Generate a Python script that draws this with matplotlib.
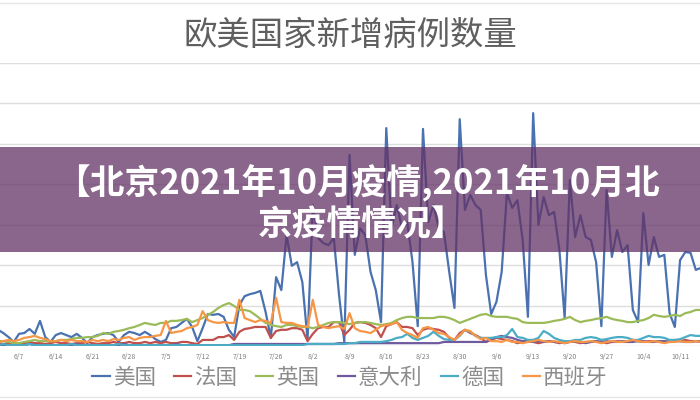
import numpy as np
import pandas as pd
import matplotlib
matplotlib.use('Agg')
import matplotlib.pyplot as plt
from matplotlib.patches import Rectangle
from matplotlib.lines import Line2D

plt.rcParams['font.family'] = ['Noto Sans CJK SC', 'DejaVu Sans']

# daily new cases, 2020-06-03 .. 2020-10-15
start_date = '2020-06-03'

us = [4000, 3200, 2200, 1000,
      3000, 3200, 4200, 3000, 6200, 2200, 1000,
      2700, 3200, 2700, 2200, 3000, 2000, 700,
      2200, 2700, 3000, 3200, 2700, 1000, 2700,
      3500, 3200, 2700, 3500, 2700, 1700, 1000,
      1500, 4400, 4700, 5700, 6700, 4700, 1200,
      4400, 7900, 7700, 7900, 7200, 4000, 2200,
      10100, 12300, 12800, 13100, 13600, 8400, 2000,
      17000, 13800, 27400, 19800, 20700, 15800, 1500,
      34800, 26700, 25400, 24900, 26700, 12600, 1000,
      47200, 22500, 29100, 27400, 18300, 13800, 5900,
      53800, 29100, 34800, 29100, 30600, 20700, 4900,
      53600, 30600, 34800, 29100, 28100, 18300, 9400,
      56000, 33600, 37300, 34800, 33600, 17500, 7900,
      10900, 18300, 37800, 34100, 36000, 26200, 7200,
      57500, 29900, 36800, 32300, 33100, 23700, 6900,
      41000, 26900, 32300, 26900, 26200, 20700, 4900,
      38500, 22000, 28600, 23200, 24900, 8900, 5900,
      32800, 20000, 26900, 22000, 22500, 8100, 4700,
      21200, 23200, 23000, 18800, 19300]

france = [700, 500, 700, 700,
          500, 700, 1000, 700, 700, 500, 700,
          1000, 700, 700, 500, 700, 700, 1000,
          700, 500, 700, 700, 1000, 700, 700,
          1000, 700, 700, 1000, 700, 1000, 700,
          1000, 700, 700, 1000, 1000, 700, 500,
          1500, 1500, 1500, 2200, 2200, 2700, 1500,
          3500, 4200, 4400, 4700, 4700, 4700, 2000,
          3700, 4000, 4000, 4400, 4400, 4000, 1200,
          3000, 4400, 4700, 4700, 5900, 5900, 2700,
          4000, 5700, 5900, 5700, 5200, 4400, 2200,
          4900, 5400, 5900, 4700, 4700, 4400, 2700,
          4000, 4400, 4200, 4000, 3500, 2000, 1500,
          3200, 4000, 3200, 2700, 2000, 1000, 1500,
          2000, 1700, 1500, 1200, 700, 1000, 1200,
          1000, 700, 1000, 1200, 1000, 700, 1000,
          1200, 1000, 700, 1000, 1000, 1200, 1000,
          700, 1000, 1200, 1000, 1000, 1500, 1200,
          1000, 1200, 1200, 1000, 1000, 1200, 1500,
          1200, 1500, 1200, 1200, 1000]

uk = [1200, 1200, 1000, 700,
      700, 1000, 1200, 1500, 1200, 1200, 1200,
      1200, 1500, 1500, 1700, 2000, 2000, 2200,
      2200, 2500, 3200, 3000, 3500, 3700, 4000,
      4400, 4700, 5200, 5700, 5400, 5200, 5700,
      5700, 6200, 6200, 6400, 6700, 5900, 6400,
      6900, 7700, 8400, 9400, 10100, 10600, 9900,
      8900, 8900, 8600, 7700, 6700, 5700, 5200,
      4900, 4700, 5200, 5200, 4900, 4700, 4700,
      4400, 4700, 5200, 5700, 5900, 5900, 5700,
      5400, 5700, 5900, 5900, 5700, 5400, 5200,
      5400, 5700, 6400, 6900, 7200, 7200, 6900,
      6900, 6900, 6900, 7200, 7200, 6900, 6400,
      5700, 6200, 6700, 7200, 7700, 7900, 7400,
      7200, 7200, 7200, 6900, 6700, 5900, 5700,
      5700, 5700, 5700, 5900, 6200, 6400, 6700,
      7200, 6400, 5900, 6200, 6400, 6700, 6900,
      7200, 6700, 6400, 6200, 5900, 5900, 6200,
      6400, 6900, 7700, 7400, 7200, 7400, 7700,
      7400, 8100, 8400, 8900, 8900]

italy = [200, 200, 200, 200,
         200, 200, 500, 200, 200, 200, 200,
         200, 200, 200, 200, 500, 200, 200,
         200, 200, 200, 200, 200, 200, 500,
         200, 200, 200, 200, 200, 200, 200,
         200, 200, 500, 200, 200, 200, 200,
         200, 200, 200, 200, 200, 200, 500,
         500, 500, 500, 500, 500, 500, 500,
         500, 500, 500, 500, 500, 500, 500,
         500, 500, 500, 500, 500, 700, 700,
         700, 700, 700, 700, 700, 700, 700,
         700, 700, 700, 700, 700, 700, 700,
         700, 700, 700, 700, 1000, 1000, 1000,
         1000, 1000, 1000, 1000, 1000, 1000, 1700,
         2200, 2500, 2200, 2000, 1500, 1200, 1200,
         1000, 1200, 1000, 1200, 1000, 1000, 700,
         1000, 1200, 1000, 700, 1000, 1200, 1000,
         1200, 1000, 1000, 1200, 1000, 1000, 1200,
         1200, 1000, 1000, 1200, 1200, 1000, 1200,
         1200, 1000, 1000, 1200, 1200]

germany = [200, 500, 200, 200,
           200, 200, 500, 200, 200, 200, 200,
           200, 200, 200, 500, 200, 200, 200,
           200, 200, 200, 200, 200, 500, 200,
           200, 200, 200, 200, 200, 200, 200,
           200, 200, 200, 200, 200, 200, 200,
           200, 200, 200, 200, 200, 200, 200,
           200, 200, 200, 200, 200, 200, 200,
           200, 200, 200, 200, 200, 200, 500,
           500, 500, 500, 500, 500, 500, 500,
           700, 700, 1000, 1000, 1000, 1000, 1000,
           1200, 1500, 2000, 2200, 3000, 2000, 1500,
           2000, 2500, 3500, 2500, 1700, 1500, 1500,
           2500, 4000, 3500, 2500, 2000, 2000, 2000,
           2200, 2200, 2700, 4200, 2200, 2000, 1500,
           1500, 2000, 3700, 3000, 2000, 1500, 1200,
           1200, 1500, 1500, 2000, 2200, 2000, 1500,
           1700, 2000, 2200, 2200, 2000, 1500, 1500,
           2000, 2500, 2200, 2200, 2000, 1500, 1500,
           1700, 2200, 2700, 2500, 2500]

spain = [1000, 1200, 1500, 1200,
         1500, 2000, 2200, 2500, 2000, 1700, 1200,
         1200, 1500, 1200, 1500, 1200, 1200, 1000,
         1500, 1200, 1500, 1200, 1700, 1500, 2000,
         2200, 1500, 2000, 2200, 2200, 2500, 2700,
         6200, 3200, 3500, 3700, 4400, 4700, 5200,
         8600, 6400, 5900, 5700, 5900, 5700, 5700,
         11400, 6900, 6400, 5900, 6400, 6200, 5700,
         11900, 5900, 5700, 5700, 5200, 4900, 4700,
         11400, 5200, 4700, 4400, 4700, 4900, 4200,
         8100, 4400, 3700, 3500, 3200, 4000, 4900,
         5200, 5400, 5900, 4000, 3200, 2700, 2000,
         4400, 4700, 4000, 3200, 3000, 2200, 1500,
         2700, 4000, 3700, 2500, 1700, 2000, 1200,
         1200, 1000, 1500, 1000, 1000, 700, 1000,
         1200, 1500, 1200, 1000, 1200, 1000, 700,
         1000, 1200, 1000, 1000, 1200, 1000, 700,
         1000, 1200, 1000, 1000, 1200, 1500, 1200,
         1000, 1000, 1200, 1000, 700, 1000, 1000,
         1200, 1000, 1000, 1200, 1000]

names = ['美国', '法国', '英国', '意大利', '德国', '西班牙']
colors = ['#4a72b0', '#c0504d', '#9bbb59', '#6f5a9e', '#4bacc6', '#f79646']
tick_labels = ['6/7', '6/14', '6/21', '6/28', '7/5', '7/12', '7/19', '7/26',
               '8/2', '8/9', '8/16', '8/23', '8/30', '9/6', '9/13', '9/20',
               '9/27', '10/4', '10/11']

title = '欧美国家新增病例数量'
banner_lines = ['【北京2021年10月疫情,2021年10月北', '京疫情情况】']

dates = pd.date_range(start_date, periods=len(us), freq='D')
tick_dates = pd.to_datetime(['2020/' + t for t in tick_labels])

fig = plt.figure(figsize=(7, 4), dpi=100)
fig.patch.set_facecolor('white')

# plot area, cropped on both sides like the screenshot
ax = fig.add_axes([0, 0.135, 1, 0.70875])
for series, color in zip([us, france, uk, italy, germany, spain], colors):
    ax.plot(dates, series, color=color, lw=1.6)

ax.set_xlim(dates[0] + pd.Timedelta(hours=9), dates[0] + pd.Timedelta(days=133.8))
ax.set_ylim(0, 70000)
ax.set_yticks(np.arange(0, 70001, 10000))
ax.yaxis.grid(True, color='#dedede', lw=1)
ax.set_axisbelow(True)
ax.tick_params(axis='y', length=0, labelleft=False)
ax.set_xticks(tick_dates)
ax.set_xticklabels(tick_labels, fontsize=5, color='#808080')
ax.tick_params(axis='x', length=0, pad=5)
for side in ['top', 'right', 'left', 'bottom']:
    ax.spines[side].set_visible(False)

# title
fig.text(0.5, 1 - 35 / 400, title, ha='center', va='center',
         fontsize=24, color='#5f5f5f')

# legend
handles = [Line2D([0], [0], color=c, lw=1.6) for c in colors]
fig.legend(handles, names, loc='center', bbox_to_anchor=(0.5, 0.055),
           ncol=6, frameon=False, fontsize=15.5, handlelength=0.8,
           handletextpad=0.15, columnspacing=0.85, labelcolor='#8c8c8c')

# frame lines of the screenshot
fig.add_artist(Line2D([0, 1], [1 - 3 / 400, 1 - 3 / 400], color='#e6e6e6', lw=1))
fig.add_artist(Line2D([0, 1], [3 / 400, 3 / 400], color='#e6e6e6', lw=1))

# purple banner over the chart
fig.patches.append(Rectangle((0, 1 - 252 / 400), 1, 105 / 400,
                             transform=fig.transFigure, facecolor='#633366',
                             alpha=0.75, edgecolor='none', zorder=5))
fig.text(0.51, 1 - 183 / 400, banner_lines[0], ha='center', va='center',
         fontsize=25, color='white', fontweight='bold', zorder=6)
fig.text(0.517, 1 - 225 / 400, banner_lines[1], ha='center', va='center',
         fontsize=25, color='white', fontweight='bold', zorder=6)

fig.savefig('out.png', dpi=100)
